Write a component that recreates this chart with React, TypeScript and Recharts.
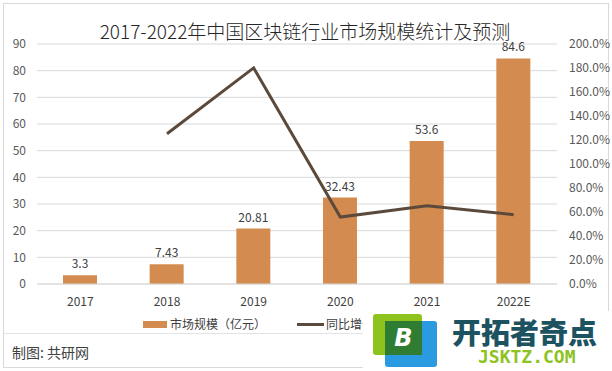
import React from 'react';
import { ComposedChart, Bar, Line, XAxis, YAxis, CartesianGrid, LabelList } from 'recharts';

const years = ['2017', '2018', '2019', '2020', '2021', '2022E'];
const marketSize = [3.3, 7.43, 20.81, 32.43, 53.6, 84.6];
const growthRate = [null, 125.2, 180.1, 55.8, 65.3, 57.8];
const leftTicks = [0, 10, 20, 30, 40, 50, 60, 70, 80, 90];
const rightTicks = [0, 20, 40, 60, 80, 100, 120, 140, 160, 180, 200];

const data = years.map((year, i) => ({ year, size: marketSize[i], growth: growthRate[i] }));

const FONT = '"Noto Sans CJK SC", "Noto Sans", sans-serif';
const BAR_COLOR = '#D38B4F';
const LINE_COLOR = '#5B4A3C';

export default function App() {
  return (
    <div style={{ position: 'absolute', left: 0, top: 0, width: 612, height: 371, background: '#fff', overflow: 'hidden' }}>
      <div style={{ position: 'absolute', left: 3, top: 3, width: 604, height: 363, border: '1px solid #D9D9D9' }} />
      <div style={{ position: 'absolute', left: 3, top: 333, width: 605, height: 1, background: '#E3E3E3' }} />
      <div
        style={{
          position: 'absolute', left: 0, top: 20, width: 610, textAlign: 'center',
          fontFamily: FONT, fontSize: 19, fontWeight: 300, lineHeight: '22px', color: '#262626',
        }}
      >
        2017-2022年中国区块链行业市场规模统计及预测
      </div>

      <div style={{ position: 'absolute', left: 0, top: 0 }}>
        <ComposedChart width={612} height={320} data={data} margin={{ top: 44, right: 0, left: 0, bottom: 0 }}>
          <CartesianGrid yAxisId="left" vertical={false} stroke="#D9D9D9" />
          <XAxis
            dataKey="year"
            height={36}
            axisLine={{ stroke: '#D9D9D9' }}
            tickLine={false}
            tickMargin={7}
            tick={{ fill: '#404040', fontSize: 12, fontFamily: FONT }}
          />
          <YAxis
            yAxisId="left"
            width={37}
            domain={[0, 90]}
            ticks={leftTicks}
            axisLine={false}
            tickLine={false}
            tickMargin={5}
            tick={{ fill: '#595959', fontSize: 12, fontFamily: FONT }}
          />
          <YAxis
            yAxisId="right"
            orientation="right"
            width={55}
            domain={[0, 200]}
            ticks={rightTicks}
            axisLine={false}
            tickLine={false}
            tickMargin={6}
            tickFormatter={(v: number) => `${v.toFixed(1)}%`}
            tick={{ fill: '#595959', fontSize: 12, fontFamily: FONT, textAnchor: 'start' }}
          />
          <Bar yAxisId="left" dataKey="size" fill={BAR_COLOR} barSize={34} isAnimationActive={false}>
            <LabelList dataKey="size" position="top" offset={7} fill="#404040" fontSize={12} fontFamily={FONT} />
          </Bar>
          <Line
            yAxisId="right"
            dataKey="growth"
            stroke={LINE_COLOR}
            strokeWidth={3}
            dot={false}
            activeDot={false}
            isAnimationActive={false}
          />
        </ComposedChart>
      </div>

      {/* legend */}
      <div style={{ position: 'absolute', left: 0, top: 314, width: 612, height: 20, fontFamily: FONT, fontSize: 12, color: '#404040' }}>
        <div style={{ position: 'absolute', left: 143, top: 7, width: 24, height: 7, background: BAR_COLOR }} />
        <div style={{ position: 'absolute', left: 170, top: 1, lineHeight: '18px' }}>市场规模（亿元）</div>
        <div style={{ position: 'absolute', left: 297, top: 9, width: 27, height: 3, background: LINE_COLOR }} />
        <div style={{ position: 'absolute', left: 326, top: 1, lineHeight: '18px' }}>同比增长率</div>
      </div>

      <div style={{ position: 'absolute', left: 12, top: 343, fontFamily: FONT, fontSize: 14, lineHeight: '18px', color: '#404040' }}>
        制图: 共研网
      </div>

      {/* watermark logo */}
      <div style={{ position: 'absolute', left: 363, top: 311, width: 249, height: 60, background: '#fff' }}>
        <div style={{ position: 'absolute', left: 10, top: 3, width: 49, height: 41, background: '#8DC21F', borderRadius: 3 }} />
        <div style={{ position: 'absolute', left: 22, top: 10, width: 52, height: 46, background: '#2A9BE0', borderRadius: 3 }} />
        <div
          style={{
            position: 'absolute', left: 22, top: 10, width: 37, height: 34, background: '#2E7D32',
            color: '#fff', fontFamily: '"DejaVu Sans", sans-serif', fontWeight: 'bold', fontStyle: 'italic',
            fontSize: 24, lineHeight: '34px', textAlign: 'center',
          }}
        >
          B
        </div>
        <div
          style={{
            position: 'absolute', left: 89, top: 7, fontFamily: FONT, fontWeight: 900, fontSize: 29,
            lineHeight: '26px', color: '#1D5361', whiteSpace: 'nowrap',
          }}
        >
          开拓者奇点
        </div>
        <div
          style={{
            position: 'absolute', left: 115, top: 38, fontFamily: '"DejaVu Sans Mono", monospace', fontWeight: 'bold',
            fontSize: 18, lineHeight: '16px', color: '#8DC21F', whiteSpace: 'nowrap',
          }}
        >
          JSKTZ.COM
        </div>
      </div>
    </div>
  );
}
